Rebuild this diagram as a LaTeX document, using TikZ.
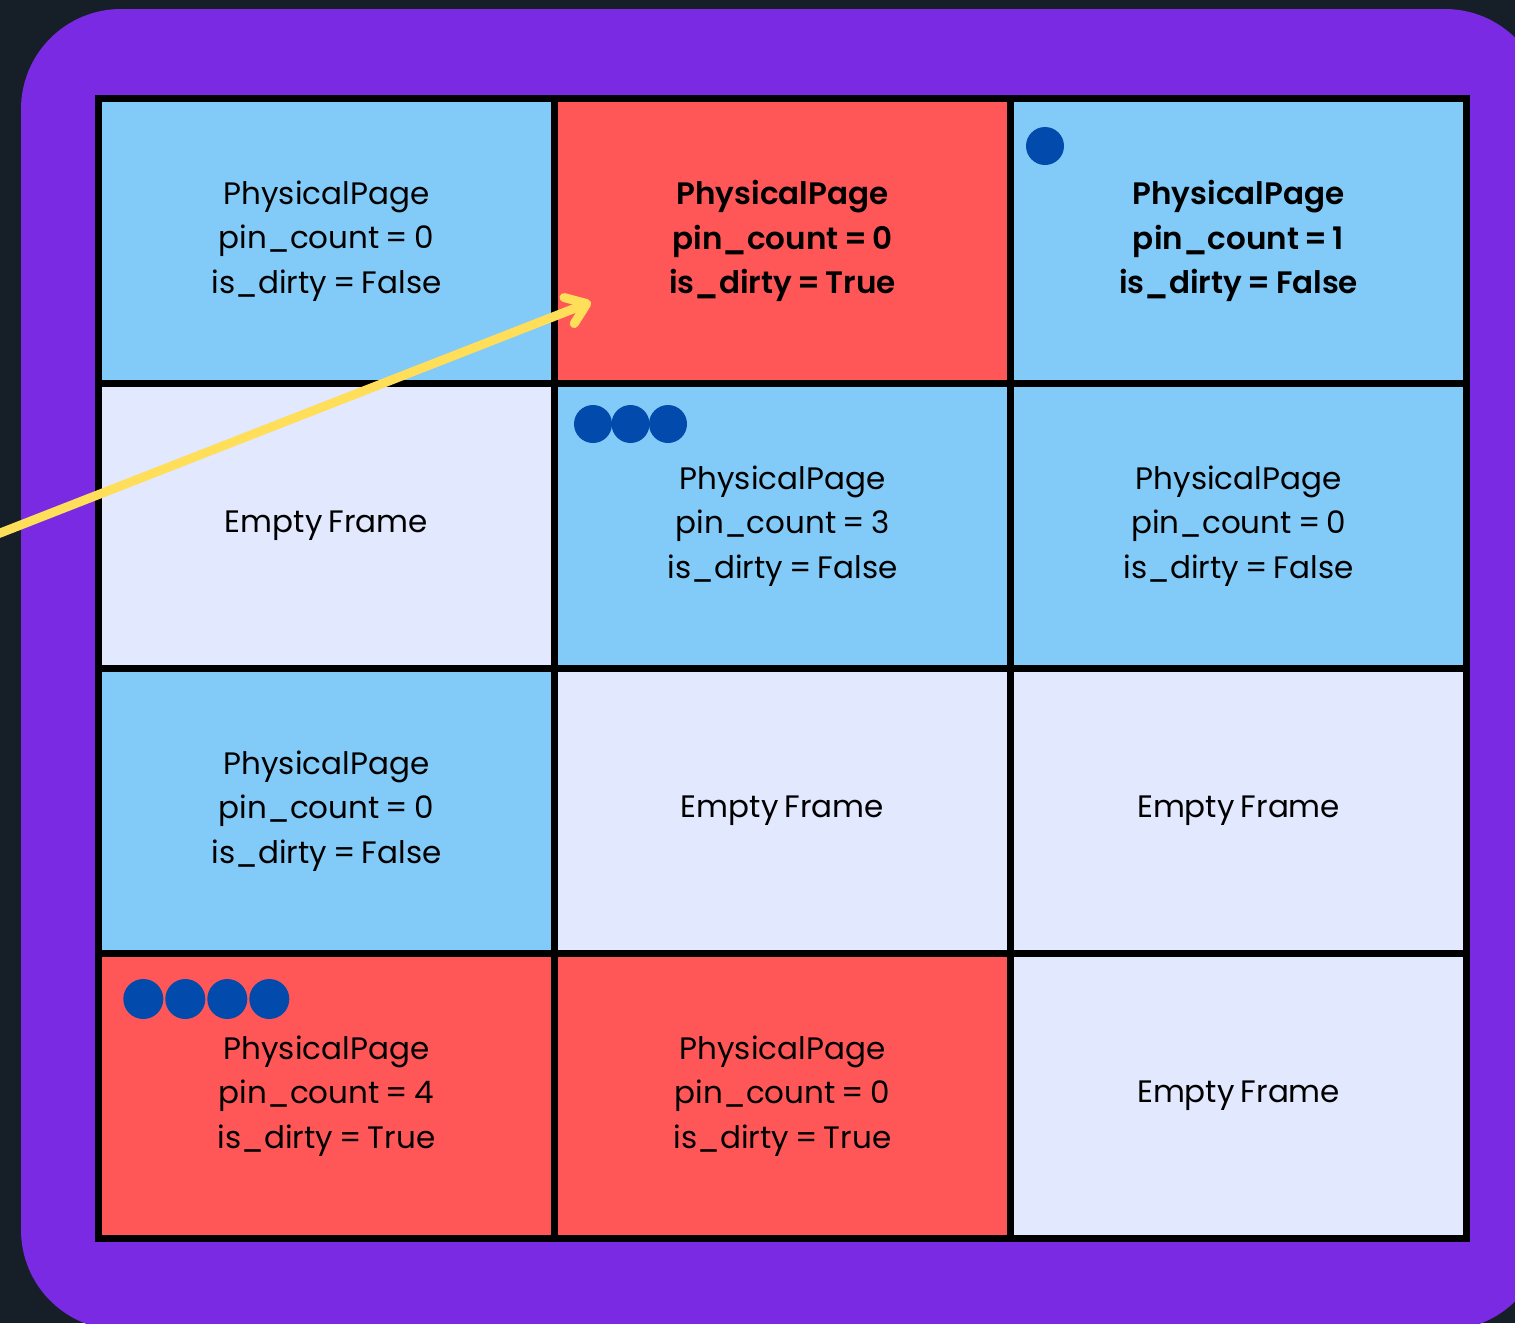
\documentclass[tikz,border=0pt]{standalone}
\usepackage{fontspec}
\setmainfont{Poppins}[WordSpace=0.75]
\newfontfamily\pagesemibold{Poppins}[UprightFont=* SemiBold, WordSpace=0.75]
\usetikzlibrary{arrows.meta}

\definecolor{bgdark}{HTML}{161F28}
\definecolor{framepurple}{HTML}{7B2AE4}
\definecolor{pageblue}{HTML}{82CAF7}
\definecolor{dirtyred}{HTML}{FF5757}
\definecolor{emptylav}{HTML}{E2E8FD}
\definecolor{pindot}{HTML}{024AAB}
\definecolor{evictyellow}{HTML}{FFDE59}

\tikzset{
  frame cell/.style={draw=black, line width=7pt, minimum width=456pt,
    minimum height=285pt, inner sep=0pt, align=center,
    font=\fontsize{31}{44.5}\selectfont},
  clean/.style={frame cell, fill=pageblue},
  dirty/.style={frame cell, fill=dirtyred},
  vacant/.style={frame cell, fill=emptylav},
  strong/.style={font=\fontsize{31}{44.5}\selectfont\pagesemibold},
  pinmark/.style={circle, fill=pindot, inner sep=0pt, minimum size=40pt},
  evict/.style={draw=evictyellow, line width=9pt, line cap=round,
    -{Straight Barb[length=19pt, width=28pt, round]}},
}

\begin{document}
\begin{tikzpicture}[x=1pt, y=-1pt]
  \useasboundingbox (0,0) rectangle (1515,1323);
  \clip (0,0) rectangle (1515,1323);
  \fill[bgdark] (0,0) rectangle (1515,1323);
  \fill[framepurple, rounded corners=100pt] (21,9) rectangle (1545,1330);

  % buffer pool frames, row by row
  \node[clean] (f11) at (326.5,241) {PhysicalPage\\pin\_count = 0\\is\_dirty = False};
  \node[dirty, strong] (f12) at (782.5,241) {PhysicalPage\\pin\_count = 0\\is\_dirty = True};
  \node[clean, strong] (f13) at (1238.6,241) {PhysicalPage\\pin\_count = 1\\is\_dirty = False};

  \node[vacant] (f21) at (326.5,526) {Empty Frame};
  \node[clean] (f22) at (782.5,526) {PhysicalPage\\pin\_count = 3\\is\_dirty = False};
  \node[clean] (f23) at (1238.6,526) {PhysicalPage\\pin\_count = 0\\is\_dirty = False};

  \node[clean] (f31) at (326.5,811) {PhysicalPage\\pin\_count = 0\\is\_dirty = False};
  \node[vacant] (f32) at (782.5,811) {Empty Frame};
  \node[vacant] (f33) at (1238.6,811) {Empty Frame};

  \node[dirty] (f41) at (326.5,1096) {PhysicalPage\\pin\_count = 4\\is\_dirty = True};
  \node[dirty] (f42) at (782.5,1096) {PhysicalPage\\pin\_count = 0\\is\_dirty = True};
  \node[vacant] (f43) at (1238.6,1096) {Empty Frame};

  % pin markers, one dot per pin
  \node[pinmark, minimum size=38pt] (p13a) at (1045,146) {};
  \node[pinmark, minimum size=38pt] (p22a) at (593,424) {};
  \node[pinmark, minimum size=38pt] (p22b) at (630.5,424) {};
  \node[pinmark, minimum size=38pt] (p22c) at (668,424) {};
  \node[pinmark] (p41a) at (143.3,999) {};
  \node[pinmark] (p41b) at (185.3,999) {};
  \node[pinmark] (p41c) at (227.3,999) {};
  \node[pinmark] (p41d) at (269.3,999) {};

  % incoming page placed into the evicted frame
  \coordinate (incoming) at (-10,537);
  \coordinate (target) at (591,302);
  \draw[evict] (incoming) -- (target);
\end{tikzpicture}
\end{document}
